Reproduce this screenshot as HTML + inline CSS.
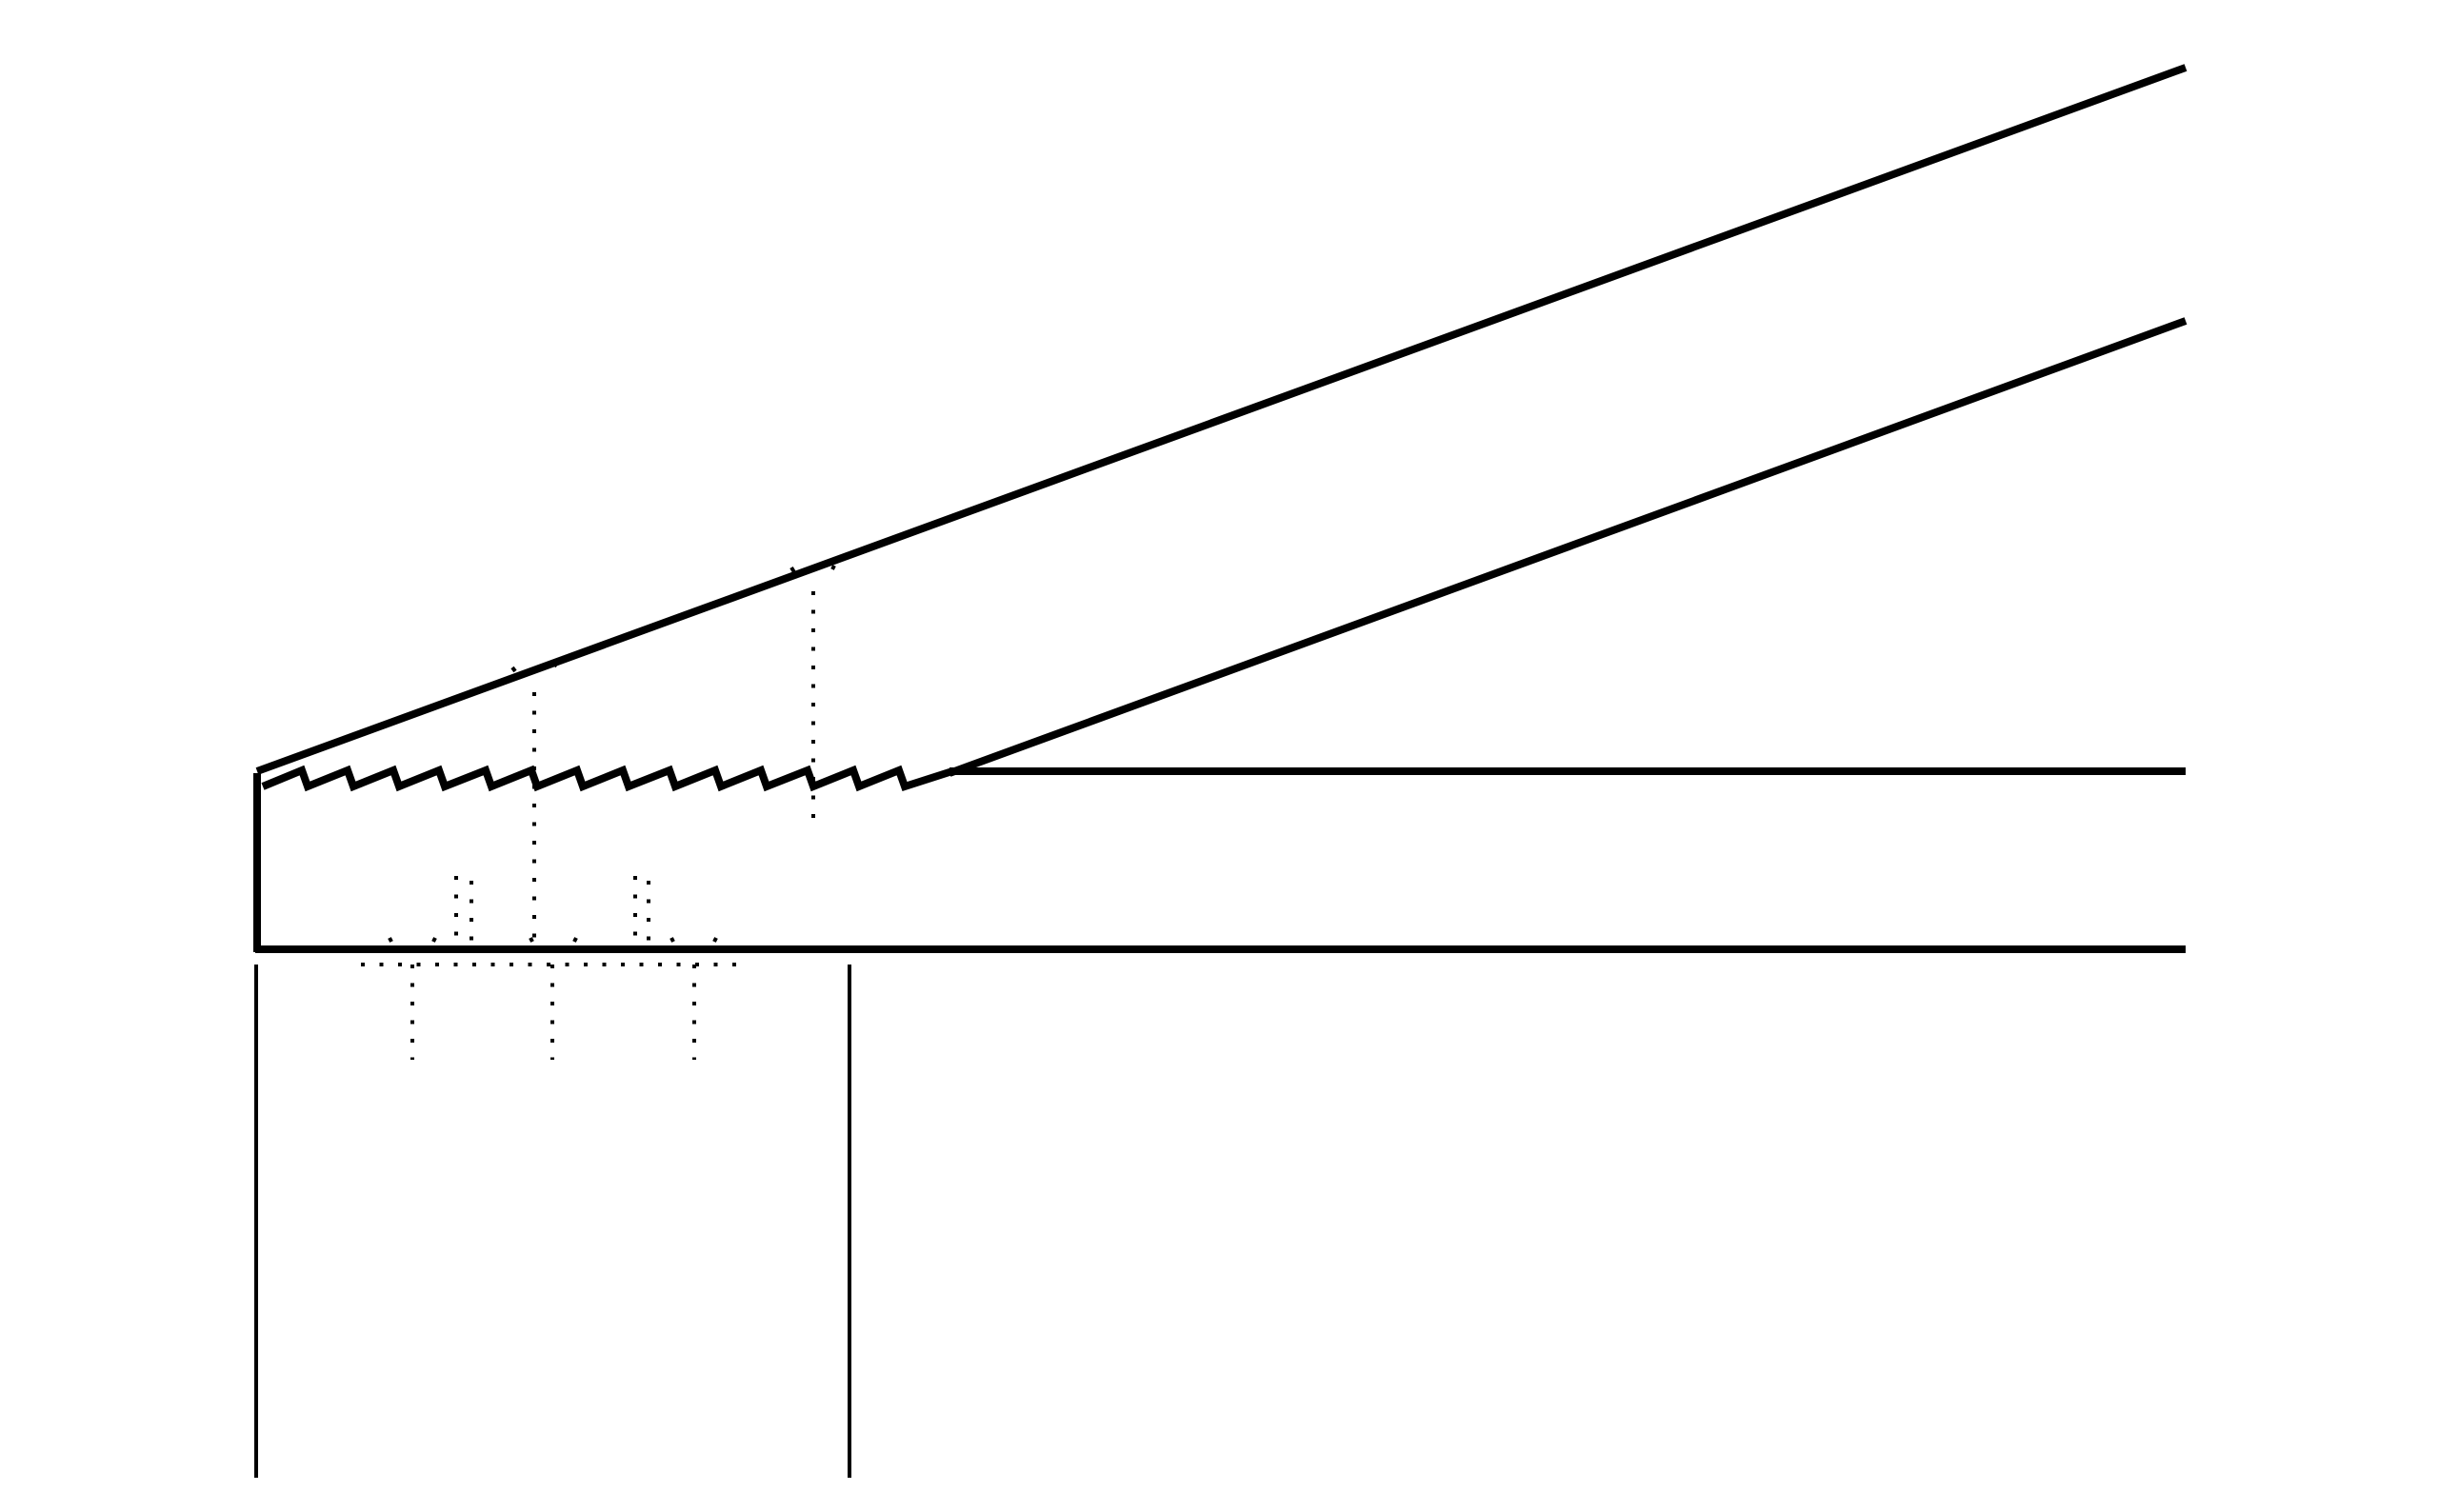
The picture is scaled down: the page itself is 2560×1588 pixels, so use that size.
<!DOCTYPE html>
<html><head><meta charset="utf-8"><style>html,body{margin:0;padding:0;background:#fff}svg{display:block}</style></head>
<body>
<svg width="2560" height="1588" viewBox="0 0 2560 1588" xmlns="http://www.w3.org/2000/svg">
<g stroke="#000" fill="none" stroke-linecap="butt">
  <line x1="270" y1="810" x2="2295" y2="71" stroke-width="8"/>
  <line x1="997" y1="812" x2="2295" y2="337" stroke-width="8"/>
  <line x1="997" y1="810" x2="2295" y2="810" stroke-width="8"/>
  <line x1="268" y1="997" x2="2295" y2="997" stroke-width="8"/>
  <line x1="270" y1="812" x2="270" y2="1000" stroke-width="8"/>
  <line x1="269" y1="1013" x2="269" y2="1552" stroke-width="4"/>
  <line x1="892" y1="1013" x2="892" y2="1552" stroke-width="4"/>
  <polyline stroke-width="8" stroke-linejoin="miter" points="276,826 317,809 323,826 365,809 371,826 413,809 419,826 461,809 467,826 510,809 516,826 558,809 564,826 606,809 612,826 654,809 660,826 703,809 709,826 751,809 757,826 799,809 805,826 848,809 854,826 896,809 902,826 944,809 950,826 1000,810"/>
  <g stroke-width="4" stroke-dasharray="4 15.5">
    <line x1="561" y1="727" x2="561" y2="997"/>
    <line x1="854" y1="621" x2="854" y2="860"/>
    <line x1="379" y1="1013" x2="784" y2="1013"/>
    <line x1="433" y1="1013" x2="433" y2="1113"/>
    <line x1="580" y1="1013" x2="580" y2="1113"/>
    <line x1="729" y1="1013" x2="729" y2="1113"/>
    <line x1="479" y1="920" x2="479" y2="997"/>
    <line x1="495" y1="925" x2="495" y2="997"/>
    <line x1="667" y1="920" x2="667" y2="997"/>
    <line x1="681" y1="925" x2="681" y2="997"/>
  </g>
  <g stroke-width="4">
    <line x1="538" y1="701" x2="541" y2="705"/>
    <line x1="582" y1="700" x2="584" y2="697"/>
    <line x1="831" y1="596" x2="834" y2="601"/>
    <line x1="874" y1="598" x2="876" y2="594"/>
    <line x1="409" y1="985" x2="411" y2="989"/>
    <line x1="455" y1="989" x2="457" y2="985"/>
    <line x1="557" y1="985" x2="559" y2="989"/>
    <line x1="603" y1="989" x2="605" y2="985"/>
    <line x1="705" y1="985" x2="707" y2="989"/>
    <line x1="750" y1="989" x2="752" y2="985"/>
  </g>
</g>
</svg>
</body></html>
